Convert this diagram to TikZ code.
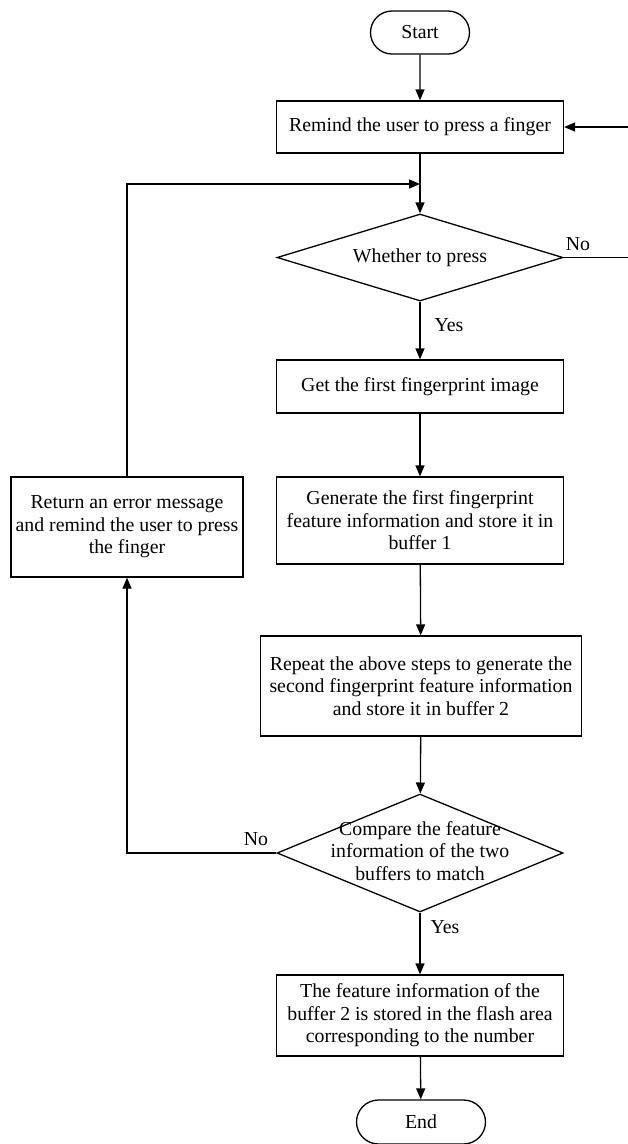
\documentclass[tikz,border=0pt]{standalone}
\usepackage{fontspec}
\setmainfont{Liberation Serif}
\usetikzlibrary{arrows.meta,shapes.geometric,shapes.misc}

\tikzset{
  flow/.style={line width=1.3pt, -{Triangle[length=11pt,width=9pt]}},
  procbox/.style={draw, line width=1.3pt, rectangle, inner sep=0pt, align=center,
    font=\fontsize{19.8}{22.4}\selectfont},
  terminal/.style={draw, line width=1.3pt, rounded rectangle, inner sep=0pt,
    font=\fontsize{19.8}{22.4}\selectfont},
  decision/.style={draw, line width=1.3pt, diamond, inner sep=0pt},
  dtext/.style={inner sep=0pt, align=center, font=\fontsize{19.8}{22.4}\selectfont},
  branch/.style={inner sep=0pt, font=\fontsize{19.8}{22.4}\selectfont},
}

\begin{document}
\begin{tikzpicture}[x=1pt, y=-1pt]
  \useasboundingbox (0,0) rectangle (628,1144);

  % main column
  \node[terminal, minimum width=99pt, minimum height=43pt] (start) at (420,32.5) {Start};
  \node[procbox, minimum width=287pt, minimum height=52pt] (remind) at (420,127)
    {Remind the user to press a finger};
  \coordinate (join) at (420,184);
  \node[decision, minimum width=286pt, minimum height=87pt] (d1) at (420,257.5) {};
  \node[dtext] (d1t) at (d1.center) {Whether to press};
  \node[procbox, minimum width=287pt, minimum height=53pt] (get) at (420,386.5)
    {Get the first fingerprint image};
  \node[procbox, minimum width=287pt, minimum height=87pt] (gen) at (420,520.5)
    {Generate the first fingerprint\\feature information and store it in\\buffer 1};
  \node[procbox, minimum width=321pt, minimum height=100pt] (rep) at (421,686)
    {Repeat the above steps to generate the\\second fingerprint feature information\\and store it in buffer 2};
  \node[decision, minimum width=286pt, minimum height=118pt] (d2) at (420,853) {};
  \node[dtext] (d2t) at (420,851)
    {Compare the feature\\information of the two\\buffers to match};
  \node[procbox, minimum width=287pt, minimum height=81pt] (fin) at (420,1015.5)
    {The feature information of the\\buffer 2 is stored in the flash area\\corresponding to the number};
  \node[terminal, minimum width=129pt, minimum height=44pt] (end) at (421,1122) {End};

  % error branch
  \node[procbox, minimum width=232pt, minimum height=100pt] (ret) at (127,527)
    {Return an error message\\and remind the user to press\\the finger};

  % branch labels
  \node[branch] (no1) at (578,244) {No};
  \node[branch] (yes1) at (449,325) {Yes};
  \node[branch] (no2) at (256,839) {No};
  \node[branch] (yes2) at (445,927) {Yes};

  % main flow
  \draw[flow] (start) -- (remind);
  \draw[flow] (remind) -- (d1);
  \draw[flow] (d1) -- (get);
  \draw[flow] (get) -- (gen);
  \draw[flow] (gen) -- (rep);
  \draw[flow] (rep) -- (d2);
  \draw[flow] (d2) -- (fin);
  \draw[flow] (fin) -- (end);

  % retry loops (the right-hand riser runs along the page edge)
  \coordinate (rloop) at (630,127);
  \draw[flow] (d1.east) -| (rloop) -- (remind.east);
  \draw[flow] (d2.west) -| (ret.south);
  \draw[flow] (ret.north) |- (join);
\end{tikzpicture}
\end{document}
